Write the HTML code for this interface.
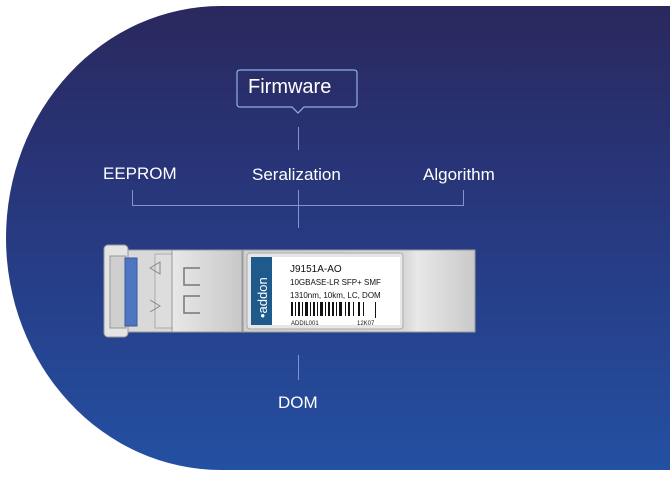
<!DOCTYPE html>
<html><head><meta charset="utf-8"><style>
html,body{margin:0;padding:0;background:#fff;}
body{width:670px;height:477px;position:relative;overflow:hidden;font-family:"Liberation Sans",sans-serif;}
.bg{position:absolute;left:6px;top:6px;width:700px;height:464px;border-radius:215px 0 0 215px / 232px 0 0 232px;background:linear-gradient(180deg,#2a285e 0%,#273a82 50%,#2450a2 100%);}
.t{position:absolute;color:#fff;font-size:17px;white-space:nowrap;}
.ln{position:absolute;background:#8fa3d0;}
</style></head><body>
<div class="bg"></div>
<svg style="position:absolute;left:0;top:0" width="670" height="477">
<path d="M240 70 H354 Q357 70 357 73 V104 Q357 107 354 107 H304 L298 113 L292 107 H240 Q237 107 237 104 V73 Q237 70 240 70 Z" fill="none" stroke="#8fb0e0" stroke-width="1.2"/>
<g stroke="#7f96c8" stroke-width="1" fill="none">
<line x1="298.5" y1="127" x2="298.5" y2="150"/>
<polyline points="132.5,190 132.5,205.5 463.5,205.5 463.5,190"/>
<line x1="298.5" y1="190" x2="298.5" y2="228"/>
<line x1="298.5" y1="355" x2="298.5" y2="380"/>
</g>
<!-- module -->
<rect x="104" y="245" width="24" height="92" rx="4" fill="#e4e4e4" stroke="#999"/>
<rect x="110" y="256" width="16" height="72" fill="#cfcfcf" stroke="#999"/>
<rect x="128" y="250" width="44" height="82" fill="#d9d9d9" stroke="#999"/>
<rect x="125" y="258" width="12" height="68" fill="#4d75c0" stroke="#3a5aa0"/>
<rect x="155" y="254" width="20" height="74" fill="#ddd" stroke="#aaa"/>
<g stroke="#888" fill="none"><path d="M150 268 L160 262 L160 274 Z"/><path d="M150 300 L160 306 L150 312"/>
<path d="M200 268 H184 V285 H200"/><path d="M200 296 H184 V313 H200"/></g>
<rect x="172" y="250" width="70" height="82" fill="url(#g1)" stroke="#999"/>
<path d="M200 268 H184 V285 H200 M200 296 H184 V313 H200" stroke="#777" fill="none" stroke-width="1.5"/>
<rect x="243" y="250" width="232" height="82" fill="url(#g2)" stroke="#999"/>
<rect x="247" y="253" width="156" height="76" rx="3" fill="#e6e6e6" stroke="#aaa"/>
<rect x="251" y="257" width="149" height="68" fill="#fff"/>
<rect x="251" y="257" width="21" height="68" fill="#1f5a8c"/>
<defs><linearGradient id="g1" x1="0" x2="1"><stop offset="0" stop-color="#e8e8e8"/><stop offset="1" stop-color="#c8c8c8"/></linearGradient>
<linearGradient id="g2" x1="0" x2="1"><stop offset="0" stop-color="#cfcfcf"/><stop offset=".7" stop-color="#d8d8d8"/><stop offset=".75" stop-color="#e8e8e8"/><stop offset="1" stop-color="#c9c9c9"/></linearGradient></defs>
<text transform="translate(267,318) rotate(-90)" font-family="Liberation Sans" font-size="13" fill="#fff">•addon</text>
<text transform="translate(282,318) rotate(-90)" font-family="Liberation Sans" font-size="6.5" fill="#fff">877-292-1701</text>
<text x="290" y="272" font-size="10" font-family="Liberation Sans" fill="#111">J9151A-AO</text>
<text x="290" y="285" font-size="8" font-family="Liberation Sans" fill="#111">10GBASE-LR SFP+ SMF</text>
<text x="290" y="298" font-size="8" font-family="Liberation Sans" fill="#111">1310nm, 10km, LC, DOM</text>
<g fill="#111"><rect x="291" y="302" width="2" height="14"/><rect x="295" y="302" width="1" height="14"/><rect x="298" y="302" width="2" height="14"/><rect x="302" y="302" width="1" height="14"/><rect x="305" y="302" width="3" height="14"/><rect x="310" y="302" width="1" height="14"/><rect x="313" y="302" width="2" height="14"/><rect x="317" y="302" width="1" height="14"/><rect x="320" y="302" width="3" height="14"/><rect x="325" y="302" width="1" height="14"/><rect x="328" y="302" width="2" height="14"/><rect x="332" y="302" width="2" height="14"/><rect x="336" y="302" width="1" height="14"/><rect x="339" y="302" width="3" height="14"/><rect x="345" y="302" width="1" height="14"/><rect x="348" y="302" width="2" height="14"/><rect x="353" y="302" width="1" height="14"/><rect x="358" y="302" width="2" height="14"/><rect x="363" y="302" width="1" height="14"/><rect x="375" y="302" width="1" height="16"/></g>
<text x="291" y="325" font-size="6" font-family="Liberation Sans" fill="#111">ADDIL001</text>
<text x="357" y="325" font-size="6" font-family="Liberation Sans" fill="#111">12K07</text>
</svg>
<div class="t" style="left:248px;top:76px;font-size:20px;">Firmware</div>
<div class="t" style="left:103px;top:164px;">EEPROM</div>
<div class="t" style="left:252px;top:165px;">Seralization</div>
<div class="t" style="left:423px;top:165px;">Algorithm</div>
<div class="t" style="left:278px;top:393px;">DOM</div>
</body></html>
